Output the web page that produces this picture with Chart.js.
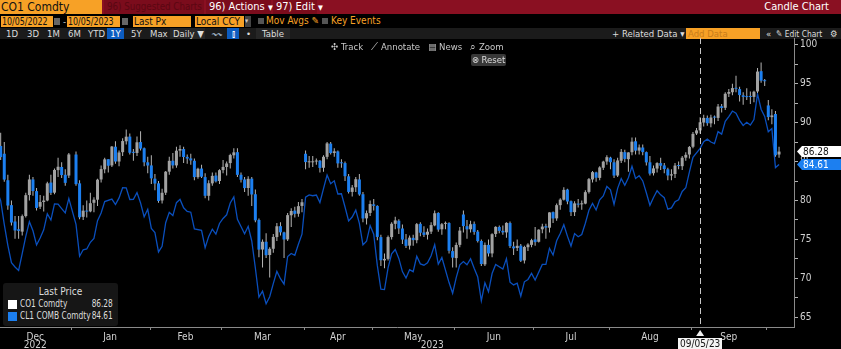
<!DOCTYPE html>
<html>
<head>
<meta charset="utf-8">
<script src="https://cdn.jsdelivr.net/npm/chart.js@4.4.0/dist/chart.umd.min.js"></script>
<style>
  body { margin: 0; background: #000; width: 841px; height: 349px; overflow: hidden; position: relative;
         font-family: 'DejaVu Sans Condensed', 'DejaVu Sans', sans-serif; font-stretch: condensed; color: #ddd; }
  .abs { position: absolute; white-space: nowrap; }
  #bar1 { position: absolute; left: 0; top: 0; width: 841px; height: 14px; background: #8a1022; }
  #bar2 { position: absolute; left: 0; top: 14px; width: 841px; height: 14px; background: #000; }
  #bar3 { position: absolute; left: 0; top: 28px; width: 841px; height: 11px; background: #1b1b1b; }
  .orange { background: #f7a126; color: #111; }
  .box { height: 11px; line-height: 11px; font-size: 10px; padding-left: 1px; box-sizing: border-box; overflow: hidden; }
  .t10 { font-size: 9.5px; line-height: 11px; }
  .cb { width: 6px; height: 6px; background: #555; }
  .sq { display: inline-block; transform: scaleX(0.88); transform-origin: left center; }
  #chartWrap { position: absolute; left: 0; top: 38px; width: 841px; height: 311px; }
  #legend { position: absolute; left: 3px; top: 283px; width: 115px; height: 43px; background: #161616;
            border-radius: 3px; font-size: 10px; color: #ddd; z-index: 2; }
  #legend .sw { position: absolute; width: 9px; height: 9px; left: 5px; }
  #legend .nm { transform: scaleX(0.83); transform-origin: left center; }
  #legend .val { transform: scaleX(0.82); transform-origin: right center; }
  #tools { position: absolute; top: 41px; left: 331px; font-size: 9.5px; color: #c8c8c8; z-index: 2; white-space: nowrap; }
  #reset { position: absolute; left: 471px; top: 54px; width: 35px; height: 12px; background: #383838; border-radius: 2px;
           font-size: 9.5px; line-height: 12px; color: #ddd; text-align: center; z-index: 2; white-space: nowrap; }
</style>
</head>
<body>

<!-- top command bar -->
<div id="bar1">
  <div class="abs orange" style="left:0;top:0;width:102px;height:14px;font-size:12px;line-height:14px;padding-left:1px;box-sizing:border-box">CO1 Comdty</div>
  <div class="abs" style="left:104px;top:0;width:100px;height:14px;background:#7b0c1c;color:#5a0712;font-size:11px;line-height:14px;padding-left:3px;box-sizing:border-box;overflow:hidden"><span class="sq">96) Suggested Charts</span></div>
  <div class="abs" style="left:206px;top:0;width:65px;height:14px;background:#7b0c1c;color:#fff;font-size:11px;line-height:14px;padding-left:3px;box-sizing:border-box">96) Actions <span style="font-size:7px">▼</span></div>
  <div class="abs" style="left:273px;top:0;width:44px;height:14px;background:#7b0c1c;color:#fff;font-size:11px;line-height:14px;padding-left:3px;box-sizing:border-box">97) Edit <span style="font-size:7px">▼</span></div>
  <div class="abs" style="right:12px;top:0;color:#fff;font-size:11px;line-height:14px">Candle Chart</div>
</div>

<!-- date range and options -->
<div id="bar2">
  <div class="abs orange box" style="left:1px;top:2px;width:52px"><span class="sq">10/05/2022</span></div>
  <div class="abs" style="left:54px;top:4px;width:6px;height:7px;background:#666"></div>
  <div class="abs t10" style="left:63px;top:2px;color:#ccc">-</div>
  <div class="abs orange box" style="left:67px;top:2px;width:53px"><span class="sq">10/05/2023</span></div>
  <div class="abs" style="left:122px;top:4px;width:6px;height:7px;background:#666"></div>
  <div class="abs orange box" style="left:133px;top:2px;width:58px">Last Px</div>
  <div class="abs orange box" style="left:195px;top:2px;width:49px">Local CCY</div>
  <div class="abs" style="left:245px;top:2px;width:6px;height:11px;background:#444;color:#ccc;font-size:7px;line-height:11px">▾</div>
  <div class="abs cb" style="left:258px;top:4px"></div>
  <div class="abs" style="left:266px;top:1px;color:#f7a126;font-size:10px;line-height:12px">Mov Avgs ✎</div>
  <div class="abs cb" style="left:322px;top:4px"></div>
  <div class="abs" style="left:331px;top:1px;color:#f7a126;font-size:10px;line-height:12px">Key Events</div>
</div>

<!-- period selector row -->
<div id="bar3">
  <div class="abs t10" style="left:6px;top:0">1D</div>
  <div class="abs t10" style="left:27px;top:0">3D</div>
  <div class="abs t10" style="left:47px;top:0">1M</div>
  <div class="abs t10" style="left:68px;top:0">6M</div>
  <div class="abs t10" style="left:88px;top:0">YTD</div>
  <div class="abs t10" style="left:107px;top:0;width:17px;height:11px;background:#0c5cc0;text-align:center;color:#fff">1Y</div>
  <div class="abs t10" style="left:131px;top:0">5Y</div>
  <div class="abs t10" style="left:150px;top:0">Max</div>
  <div class="abs t10" style="left:170px;top:0;width:35px;height:11px;background:#262626;padding-left:3px;box-sizing:border-box">Daily ▼</div>
  <div class="abs t10" style="left:212px;top:0;color:#9ab">〰</div>
  <div class="abs t10" style="left:227px;top:0;width:12px;height:11px;background:#0c5cc0;color:#fff;text-align:center">⫾</div>
  <div class="abs t10" style="left:246px;top:0">•</div>
  <div class="abs t10" style="left:256px;top:0;width:34px;height:11px;background:#262626;text-align:center">Table</div>
  <div class="abs t10" style="left:612px;top:0">+ Related Data ▾</div>
  <div class="abs orange t10" style="left:686px;top:0;width:74px;height:11px;padding-left:2px;box-sizing:border-box;color:#c97d1a">Add Data</div>
  <div class="abs t10" style="left:766px;top:0">«</div>
  <div class="abs t10" style="left:776px;top:0"><span class="sq">✎ Edit Chart</span></div>
  <div class="abs t10" style="left:830px;top:0">⚙</div>
</div>

<div id="tools">✣ Track&nbsp;&nbsp;&nbsp;⟋ Annotate&nbsp;&nbsp;&nbsp;▤ News&nbsp;&nbsp;&nbsp;⌕ Zoom</div>
<div id="reset">⊗ Reset</div>

<div id="chartWrap"><canvas id="candleChart"></canvas></div>

<div id="legend">
  <div class="abs" style="left:0;width:115px;top:3px;text-align:center">Last Price</div>
  <div class="sw" style="top:17px;background:#fff"></div>
  <div class="abs nm" style="left:17px;top:15px">CO1 Comdty</div>
  <div class="abs val" id="lgCo" style="right:5px;top:15px"></div>
  <div class="sw" style="top:29px;background:#1c7ff0"></div>
  <div class="abs nm" style="left:17px;top:27px">CL1 COMB Comdty</div>
  <div class="abs val" id="lgCl" style="right:5px;top:27px"></div>
</div>

<script>
// ========== ТОРГОВІ СЕСІЇ (Dec 2022 – Oct 2023) ==========
// 2 січня залишено як порожній слот (свято)
const monthNames = ['Dec', 'Jan', 'Feb', 'Mar', 'Apr', 'May', 'Jun', 'Jul', 'Aug', 'Sep', 'Oct'];
const monthYears = [2022, 2023, 2023, 2023, 2023, 2023, 2023, 2023, 2023, 2023, 2023];
const sessionDays = [
  [1, 2, 5, 6, 7, 8, 9, 12, 13, 14, 15, 16, 19, 20, 21, 22, 23, 27, 28, 29, 30],
  [2, 3, 4, 5, 6, 9, 10, 11, 12, 13, 16, 17, 18, 19, 20, 23, 24, 25, 26, 27, 30, 31],
  [1, 2, 3, 6, 7, 8, 9, 10, 13, 14, 15, 16, 17, 20, 21, 22, 23, 24, 27, 28],
  [1, 2, 3, 6, 7, 8, 9, 10, 13, 14, 15, 16, 17, 20, 21, 22, 23, 24, 27, 28, 29, 30, 31],
  [3, 4, 5, 6, 10, 11, 12, 13, 14, 17, 18, 19, 20, 21, 24, 25, 26, 27, 28],
  [1, 2, 3, 4, 5, 8, 9, 10, 11, 12, 15, 16, 17, 18, 19, 22, 23, 24, 25, 26, 29, 30, 31],
  [1, 2, 5, 6, 7, 8, 9, 12, 13, 14, 15, 16, 19, 20, 21, 22, 23, 26, 27, 28, 29, 30],
  [3, 4, 5, 6, 7, 10, 11, 12, 13, 14, 17, 18, 19, 20, 21, 24, 25, 26, 27, 28, 31],
  [1, 2, 3, 4, 7, 8, 9, 10, 11, 14, 15, 16, 17, 18, 21, 22, 23, 24, 25, 28, 29, 30, 31],
  [1, 4, 5, 6, 7, 8, 11, 12, 13, 14, 15, 18, 19, 20, 21, 22, 25, 26, 27, 28, 29],
  [2, 3, 4, 5]
];

// ========== CO1 Comdty (Brent), OHLC ==========
const coOpen = [
  85.9, 87.0, 86.0, 82.6, 79.4, 77.3, 76.3, 76.0, 78.0, 80.7, 82.7, 81.2, 79.2, 79.8, 80.0, 82.3, 81.0, 83.9, 84.3, 83.3, 83.2,
  null, 85.9, 82.2, 77.9, 78.7, 78.6, 79.7, 80.1, 82.7, 84.0, 85.3, 84.5, 86.9, 85.0, 86.2, 87.6, 88.2, 86.2, 86.1, 87.5, 86.7, 84.9,
  84.5, 82.8, 82.2, 80.0, 81.0, 83.7, 85.1, 84.5, 86.4, 86.6, 85.6, 85.4, 85.1, 83.0, 84.1, 83.0, 80.6, 82.2, 83.2, 82.5,
  83.9, 84.3, 84.8, 85.8, 86.2, 83.3, 82.7, 81.6, 82.8, 80.8, 77.5, 73.7, 74.7, 73.0, 73.8, 75.3, 76.7, 75.9, 75.0, 78.1, 78.7, 78.3, 79.3,
  86.0, 84.9, 84.9, 85.0, 85.1, 84.2, 85.6, 87.3, 86.1, 86.3, 84.8, 84.8, 83.1, 81.1, 81.7, 82.7, 80.8, 77.7, 78.4,
  79.5, 79.3, 75.3, 72.3, 72.5, 75.3, 77.0, 77.4, 76.4, 75.0, 74.2, 75.2, 74.9, 77.0, 75.9, 75.6, 76.0, 76.8, 78.4, 76.3, 77.0, 77.1, 73.5,
  72.6, 74.3, 78.2, 76.7, 76.3, 77.0, 76.0, 74.8, 71.8, 74.3, 73.2, 75.7, 76.6, 76.1, 75.9, 77.1, 74.1, 73.9, 74.2, 72.3, 74.0, 74.3,
  75.0, 74.7, 76.3, 76.7, 76.5, 78.5, 77.7, 79.4, 80.1, 81.4, 79.9, 78.5, 79.6, 79.5, 79.6, 81.1, 82.7, 83.6, 82.9, 84.2, 85.0,
  85.5, 84.9, 83.2, 85.1, 86.2, 85.3, 86.2, 87.6, 86.4, 86.8, 86.2, 84.9, 83.5, 84.1, 84.8, 84.5, 84.0, 83.2, 83.4, 84.5, 84.4, 85.5, 85.9,
  86.9, 88.6, 89.0, 90.0, 90.6, 89.9, 90.7, 90.6, 92.1, 91.9, 93.7, 93.9, 94.4, 94.3, 93.5, 93.3, 93.3, 93.3, 94.0, 96.6, 95.4,
  92.2, 90.7, 91.1, 85.9
];
const coHigh = [
  87.6, 88.7, 87.5, 83.3, 80.0, 78.0, 78.0, 78.2, 81.0, 83.3, 83.0, 81.6, 80.7, 80.6, 82.4, 83.3, 84.1, 85.5, 84.9, 84.0, 86.1,
  null, 86.3, 82.6, 79.4, 80.0, 81.0, 80.4, 82.8, 84.5, 85.5, 85.3, 87.0, 87.6, 86.4, 88.0, 89.1, 88.6, 86.6, 88.2, 88.9, 86.8, 85.6,
  85.8, 83.4, 82.5, 81.5, 83.8, 85.6, 86.1, 86.9, 87.1, 86.9, 85.9, 86.0, 85.4, 84.2, 84.6, 83.5, 82.6, 83.6, 83.6, 84.0,
  85.2, 85.0, 86.0, 86.7, 86.7, 83.6, 83.0, 83.1, 83.0, 81.4, 77.7, 75.0, 75.8, 74.0, 75.7, 77.1, 77.2, 76.0, 78.4, 79.0, 79.2, 79.8, 80.2,
  86.4, 85.7, 85.7, 85.4, 85.2, 85.8, 87.5, 87.5, 86.7, 86.4, 85.3, 85.0, 83.4, 82.0, 83.0, 83.4, 81.1, 78.7, 80.0,
  80.2, 79.4, 75.6, 73.2, 75.5, 77.2, 77.9, 77.6, 76.9, 75.7, 75.5, 75.6, 77.1, 77.2, 76.7, 76.4, 77.2, 78.7, 78.5, 77.1, 77.3, 77.2, 74.0,
  74.6, 76.6, 78.7, 77.5, 77.4, 77.3, 76.2, 75.0, 74.6, 75.0, 75.8, 76.7, 76.8, 76.8, 77.2, 77.3, 74.7, 75.0, 74.4, 74.2, 74.5, 75.1,
  76.6, 76.3, 77.0, 77.0, 78.5, 78.6, 79.6, 80.3, 81.7, 81.5, 80.0, 79.9, 80.2, 80.0, 81.3, 82.9, 83.8, 83.7, 84.4, 85.1, 85.8,
  85.6, 85.3, 85.5, 86.6, 86.5, 86.2, 88.1, 88.1, 87.2, 87.2, 86.3, 85.7, 84.5, 84.9, 85.5, 84.8, 84.2, 84.0, 84.8, 85.0, 85.7, 86.2, 87.0,
  88.8, 89.3, 90.7, 91.0, 90.9, 91.0, 90.9, 92.4, 92.4, 93.9, 94.3, 95.0, 96.0, 94.6, 93.9, 94.4, 94.0, 94.1, 97.0, 97.7, 95.6,
  92.9, 91.7, 91.5, 86.9
];
const coLow = [
  85.4, 85.2, 82.4, 78.8, 76.8, 75.1, 75.1, 75.5, 77.8, 80.0, 80.6, 78.7, 78.9, 78.6, 79.9, 80.7, 80.8, 83.0, 82.9, 81.9, 82.9,
  null, 81.9, 77.6, 77.5, 77.8, 78.5, 78.5, 79.3, 82.3, 83.5, 83.6, 84.3, 84.7, 84.4, 85.7, 87.2, 85.9, 85.1, 85.7, 86.4, 84.4, 83.5,
  82.1, 81.3, 79.7, 79.6, 80.7, 83.3, 84.1, 84.2, 85.6, 84.8, 84.7, 84.6, 82.6, 82.8, 82.9, 80.3, 80.0, 81.9, 82.3, 82.1,
  83.5, 83.2, 84.1, 85.4, 83.0, 82.3, 81.1, 80.6, 79.3, 77.2, 72.7, 71.4, 72.6, 70.1, 73.3, 74.8, 75.5, 72.6, 74.8, 76.6, 77.8, 77.9, 78.5,
  84.0, 84.2, 84.3, 84.6, 83.6, 83.7, 85.3, 85.9, 85.6, 84.2, 84.2, 82.5, 80.9, 80.5, 81.1, 80.6, 77.2, 76.9, 78.0,
  78.7, 74.9, 71.6, 71.3, 72.3, 75.0, 76.3, 75.7, 74.4, 73.9, 73.7, 74.2, 74.5, 75.4, 75.3, 75.0, 75.7, 76.7, 76.0, 75.6, 76.3, 73.2, 71.4,
  71.4, 74.0, 75.9, 75.1, 75.9, 75.6, 74.6, 71.6, 71.6, 72.8, 72.7, 75.3, 75.8, 75.6, 75.2, 73.9, 73.0, 73.5, 72.1, 71.9, 73.5, 74.0,
  74.2, 74.6, 75.8, 75.1, 75.9, 77.1, 77.4, 78.8, 80.0, 79.5, 78.0, 78.0, 79.1, 78.8, 79.5, 80.9, 82.3, 82.4, 82.6, 83.9, 84.6,
  84.0, 82.9, 83.0, 84.8, 84.9, 83.7, 85.8, 85.9, 85.9, 85.8, 84.5, 83.2, 83.2, 83.6, 83.9, 83.5, 82.6, 82.6, 82.9, 84.0, 83.9, 85.1, 85.4,
  86.7, 88.4, 88.6, 89.5, 89.6, 89.4, 89.8, 90.2, 91.3, 91.6, 93.3, 93.5, 93.9, 92.7, 92.3, 92.9, 92.4, 92.6, 93.8, 95.1, 94.7,
  90.3, 89.8, 85.6, 85.5
];
const coClose = [
  86.88, 85.57, 82.68, 79.35, 77.17, 76.15, 76.10, 77.99, 80.68, 82.70, 81.21, 79.04, 79.80, 79.99, 82.20, 80.98, 83.92, 84.33, 83.26, 82.26, 85.91,
  null, 82.10, 77.84, 78.69, 78.57, 79.65, 80.10, 82.67, 84.03, 85.28, 84.46, 86.92, 85.00, 86.16, 87.63, 88.19, 86.13, 86.12, 87.47, 86.66, 84.90, 84.49,
  82.84, 82.17, 79.94, 80.99, 83.69, 85.09, 84.50, 86.39, 86.61, 85.58, 85.38, 85.14, 83.00, 84.07, 83.05, 80.60, 82.21, 83.16, 82.45, 83.89,
  84.31, 84.75, 85.83, 86.18, 83.29, 82.66, 81.59, 82.78, 80.77, 77.45, 73.69, 74.70, 72.97, 73.79, 75.32, 76.69, 75.91, 74.99, 78.12, 78.65, 78.28, 79.27, 79.77,
  84.93, 84.94, 84.99, 85.12, 84.18, 85.61, 87.33, 86.09, 86.31, 84.76, 84.77, 83.12, 81.10, 81.66, 82.73, 80.77, 77.69, 78.37, 79.54,
  79.31, 75.32, 72.33, 72.50, 75.30, 77.01, 77.44, 76.41, 74.98, 74.17, 75.23, 74.91, 76.96, 75.86, 75.58, 75.99, 76.84, 78.36, 76.26, 76.95, 77.07, 73.54, 72.66,
  74.28, 76.13, 76.71, 76.29, 76.95, 75.96, 74.79, 71.84, 74.29, 73.20, 75.67, 76.61, 76.09, 75.90, 77.12, 74.14, 73.85, 74.18, 72.26, 74.03, 74.34, 74.90,
  74.65, 76.25, 76.65, 76.52, 78.47, 77.69, 79.40, 80.11, 81.36, 79.87, 78.50, 79.63, 79.46, 79.64, 81.07, 82.74, 83.64, 82.92, 84.24, 84.99, 85.56,
  84.91, 83.20, 85.14, 86.24, 85.34, 86.17, 87.55, 86.40, 86.81, 86.21, 84.89, 83.45, 84.12, 84.80, 84.46, 84.03, 83.21, 83.36, 84.48, 84.42, 85.49, 85.86, 86.86,
  88.55, 89.00, 90.04, 90.60, 89.92, 90.65, 90.64, 92.06, 91.88, 93.70, 93.93, 94.43, 94.34, 93.53, 93.30, 93.27, 93.29, 93.96, 96.55, 95.38, 95.31,
  90.71, 90.92, 85.81, 86.28
];

// ========== CL1 COMB Comdty (WTI), закриття ==========
const clClose = [
  81.22, 79.98, 76.93, 74.25, 72.01, 71.46, 71.02, 73.17, 75.39, 77.28, 76.11, 74.29, 75.19, 76.23, 78.29, 77.49, 79.56, 79.53, 78.96, 78.40, 80.26,
  null, 76.93, 72.84, 73.67, 73.77, 74.63, 75.12, 77.41, 78.39, 79.86, null, 80.18, 79.48, 80.33, 81.64, 81.62, 80.13, 80.15, 81.01, 79.68, 77.90, 78.87,
  76.41, 75.88, 73.39, 74.11, 77.14, 78.47, 78.06, 79.72, 80.14, 79.06, 78.59, 78.49, 76.34, null, 76.16, 73.95, 75.39, 76.32, 75.68, 77.05,
  77.69, 78.16, 79.68, 80.46, 77.58, 76.66, 75.72, 76.68, 74.80, 71.33, 67.61, 68.35, 66.74, 67.64, 69.33, 70.90, 69.96, 69.26, 72.81, 73.20, 72.97, 74.37, 75.67,
  80.42, 80.71, 80.61, 80.70, 79.74, 81.53, 83.26, 82.16, 82.52, 80.83, 80.86, 79.16, 77.37, 77.87, 78.76, 77.07, 74.30, 74.76, 76.78,
  75.66, 71.66, 68.60, 68.56, 71.34, 73.16, 73.71, 72.56, 70.87, 70.04, 71.11, 70.86, 72.83, 71.86, 71.69, 71.99, 72.91, 74.34, 71.83, 72.67, null, 69.46, 68.09,
  70.10, 71.74, 72.15, 71.74, 72.53, 71.29, 70.17, 67.12, 69.42, 68.27, 70.62, 71.78, null, 71.19, 72.53, 69.51, 69.16, 69.37, 67.70, 69.56, 69.86, 70.64,
  69.79, null, 71.79, 71.80, 73.86, 72.99, 74.83, 75.75, 76.89, 75.42, 74.15, 75.75, 75.35, 75.63, 77.07, 78.74, 79.63, 78.78, 80.09, 80.58, 81.80,
  81.37, 79.49, 81.55, 82.82, 81.94, 82.92, 84.40, 82.82, 83.19, 82.51, 80.99, 79.38, 80.39, 81.25, 80.72, 80.35, 78.89, 79.05, 79.83, 80.10, 81.16, 81.63, 83.63,
  85.55, null, 86.69, 87.54, 87.87, 87.51, 87.29, 88.84, 88.52, 90.16, 90.77, 91.48, 91.20, 90.28, 89.63, 90.03, 89.68, 90.39, 93.68, 91.71, 90.79,
  88.82, 89.23, 84.22, 84.61
];

// ========== ОСІ ==========
const yTicks = [65, 67.5, 70, 72.5, 75, 77.5, 80, 82.5, 85, 87.5, 90, 92.5, 95, 97.5, 100];
const yRange = [63.755, 100.86];
const xRange = [0.81, 222.17];     // видиме вікно в індексах сесій
const markerLabel = '09/05/23';     // вертикальна пунктирна позначка

const FONT = "'DejaVu Sans Condensed', 'DejaVu Sans', sans-serif";
const COLORS = {
  up: '#a2a2a2',
  down: '#1c7ff0',
  wick: '#b4b4b4',
  wti: '#0a4fbd',
  axis: '#8a8a8a',
  text: '#d2d2d2'
};

// ========== ПІДГОТОВКА ДАНИХ ==========
const sessionLabels = [];   // 'MM/DD/YY' для кожної сесії
const monthSpans = [];      // [перший індекс, останній індекс] місяця
sessionDays.forEach((days, m) => {
  const start = sessionLabels.length;
  const mm = ['12', '01', '02', '03', '04', '05', '06', '07', '08', '09', '10'][m];
  days.forEach(d => sessionLabels.push(mm + '/' + String(d).padStart(2, '0') + '/' + String(monthYears[m]).slice(2)));
  monthSpans.push([start, sessionLabels.length - 1]);
});
const markerIndex = sessionLabels.indexOf(markerLabel);

const wickData = [], bodyData = [], wtiData = [];
coClose.forEach((c, i) => {
  if (c === null) return;
  wickData.push({ x: i, y: [coLow[i], coHigh[i]] });
  bodyData.push({ x: i, y: [coOpen[i], c] });
});
clClose.forEach((c, i) => { if (c !== null) wtiData.push({ x: i, y: c }); });

// підписи місяців по центру видимої частини місяця
const monthTicks = [];
monthSpans.forEach(([a, b], m) => {
  const lo = Math.max(a - 0.5, xRange[0]);
  const hi = Math.min(b + 0.5, xRange[1]);
  if (hi - lo < 10) return;
  monthTicks.push({ value: (lo + hi) / 2, label: monthNames[m] });
});

const lastCo = coClose[coClose.length - 1];
const lastCl = clClose[clClose.length - 1];
document.getElementById('lgCo').textContent = lastCo.toFixed(2);
document.getElementById('lgCl').textContent = lastCl.toFixed(2);

// ========== ДОДАТКОВІ ЕЛЕМЕНТИ: позначка дати, роки, теги ==========
const overlayPlugin = {
  id: 'overlay',
  afterDatasetsDraw(chart) {
    const { ctx, chartArea, scales: { x } } = chart;
    const px = Math.round(x.getPixelForValue(markerIndex)) + 0.5;
    ctx.save();
    ctx.strokeStyle = '#c8c8c8';
    ctx.lineWidth = 1;
    ctx.setLineDash([6, 4]);
    ctx.beginPath();
    ctx.moveTo(px, chartArea.top);
    ctx.lineTo(px, chartArea.bottom);
    ctx.stroke();
    ctx.restore();
  },
  afterDraw(chart) {
    const { ctx, chartArea, scales: { x, y } } = chart;
    ctx.save();

    // межі місяців — короткі риски під віссю
    ctx.strokeStyle = COLORS.axis;
    ctx.lineWidth = 1;
    monthSpans.forEach(([a]) => {
      if (a === 0) return;
      const px = Math.round(x.getPixelForValue(a - 0.5)) + 0.5;
      if (px < chartArea.left || px > chartArea.right) return;
      ctx.beginPath();
      ctx.moveTo(px, chartArea.bottom);
      ctx.lineTo(px, chartArea.bottom + 3);
      ctx.stroke();
    });

    // роки
    ctx.font = '10px ' + FONT;
    ctx.fillStyle = COLORS.text;
    ctx.textAlign = 'center';
    ctx.textBaseline = 'middle';
    const yearSplit = x.getPixelForValue(monthSpans[1][0] - 0.5);
    ctx.fillText('2022', (chartArea.left + yearSplit) / 2, chartArea.bottom + 18);
    ctx.fillText('2023', (yearSplit + chartArea.right) / 2, chartArea.bottom + 18);

    // позначка вибраної дати
    const mx = x.getPixelForValue(markerIndex);
    ctx.fillStyle = '#f0f0f0';
    ctx.beginPath();
    ctx.moveTo(mx, chartArea.bottom + 3);
    ctx.lineTo(mx + 4, chartArea.bottom + 9);
    ctx.lineTo(mx - 4, chartArea.bottom + 9);
    ctx.closePath();
    ctx.fill();
    const w = ctx.measureText(markerLabel).width + 4;
    ctx.fillStyle = '#f4f4f4';
    ctx.fillRect(Math.round(mx - w / 2), chartArea.bottom + 11, Math.round(w), 12);
    ctx.fillStyle = '#111';
    ctx.fillText(markerLabel, mx, chartArea.bottom + 17.5);

    // теги останніх значень на правій осі
    const tag = (val, bg, fg) => {
      const ty = y.getPixelForValue(val);
      const x0 = chartArea.right + 3;
      ctx.fillStyle = bg;
      ctx.beginPath();
      ctx.moveTo(x0, ty);
      ctx.lineTo(x0 + 5, ty - 5.5);
      ctx.lineTo(chart.width, ty - 5.5);
      ctx.lineTo(chart.width, ty + 5.5);
      ctx.lineTo(x0 + 5, ty + 5.5);
      ctx.closePath();
      ctx.fill();
      ctx.fillStyle = fg;
      ctx.textAlign = 'left';
      ctx.fillText(val.toFixed(2), x0 + 6, ty + 0.5);
    };
    tag(lastCo, '#ffffff', '#111');
    tag(lastCl, COLORS.down, '#ffffff');
    ctx.restore();
  }
};

// ========== ГРАФІК ==========
Chart.defaults.font.family = FONT;
Chart.defaults.font.size = 10;

new Chart(document.getElementById('candleChart'), {
  type: 'bar',
  data: {
    datasets: [
      {
        type: 'line',
        label: 'CL1 COMB Comdty',
        data: wtiData,
        borderColor: COLORS.wti,
        borderWidth: 1.3,
        pointRadius: 0,
        spanGaps: true,
        tension: 0,
        order: 3
      },
      {
        label: 'wick',
        data: wickData,
        backgroundColor: COLORS.wick,
        barThickness: 1,
        grouped: false,
        inflateAmount: 0,
        order: 2
      },
      {
        label: 'CO1 Comdty',
        data: bodyData,
        backgroundColor: (ctx) => {
          const r = ctx.raw;
          return r && r.y[1] >= r.y[0] ? COLORS.up : COLORS.down;
        },
        barThickness: 3,
        minBarLength: 1,
        grouped: false,
        inflateAmount: 0,
        order: 1
      }
    ]
  },
  options: {
    responsive: true,
    maintainAspectRatio: false,
    animation: false,
    devicePixelRatio: 1,
    layout: { padding: 0 },
    plugins: { legend: { display: false }, tooltip: { enabled: false } },
    scales: {
      x: {
        type: 'linear',
        min: xRange[0],
        max: xRange[1],
        offset: false,
        grid: { display: false, offset: false, drawTicks: false },
        border: { color: COLORS.axis, width: 1 },
        afterBuildTicks: (scale) => { scale.ticks = monthTicks.map(t => ({ value: t.value })); },
        afterFit: (scale) => {
          scale.height = 22;
          scale.paddingLeft = 0;
          scale.paddingRight = 0;
        },
        ticks: {
          autoSkip: false,
          maxRotation: 0,
          padding: 4,
          color: COLORS.text,
          callback: (v, i) => monthTicks[i] ? monthTicks[i].label : ''
        }
      },
      y: {
        position: 'right',
        min: yRange[0],
        max: yRange[1],
        grid: { drawOnChartArea: false, tickLength: 4, tickColor: '#b0b0b0' },
        border: { color: COLORS.axis, width: 1 },
        afterBuildTicks: (scale) => { scale.ticks = yTicks.map(v => ({ value: v })); },
        afterFit: (scale) => {
          scale.width = 47;
          scale.paddingTop = 0;
          scale.paddingBottom = 0;
        },
        ticks: {
          padding: 2,
          color: COLORS.text,
          callback: (v) => (v % 5 === 0 ? String(v) : '')
        }
      }
    }
  },
  plugins: [overlayPlugin]
});
</script>
</body>
</html>
